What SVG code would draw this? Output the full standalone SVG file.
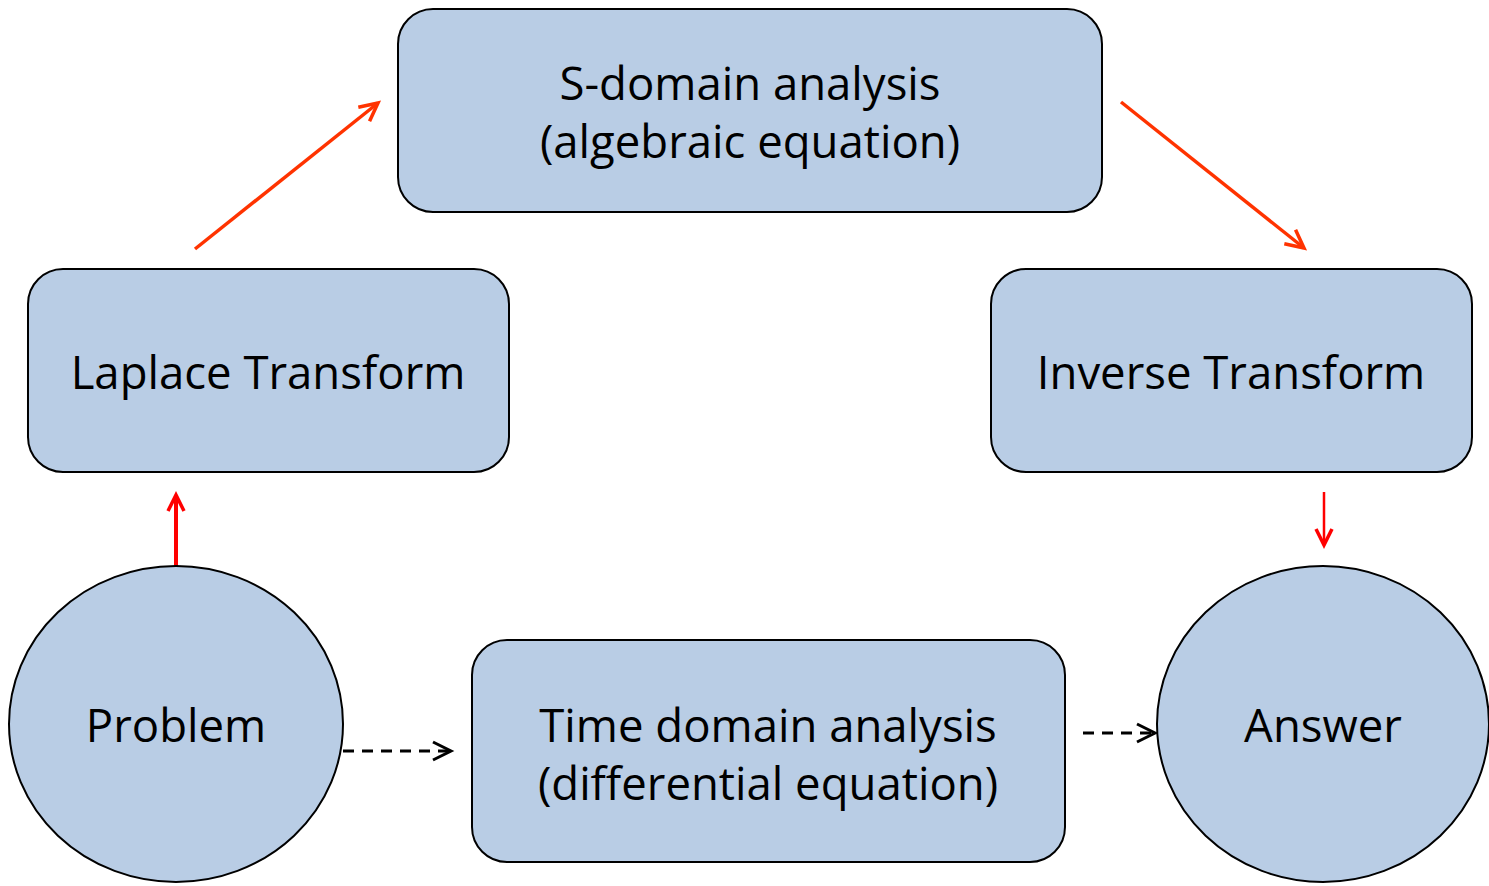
<svg xmlns="http://www.w3.org/2000/svg" width="1489" height="886" viewBox="0 0 1489 886">
<style>
.box{fill:#b9cde5;stroke:#000;stroke-width:2}
.t{font-family:"Open Sans","DejaVu Sans",sans-serif;font-size:45.5px;fill:#000;text-anchor:middle}
.ro{fill:none;stroke:#ff3300;stroke-width:3.5}
.rr{fill:none;stroke:#ff0000}
.dash{fill:none;stroke:#000;stroke-width:3;stroke-dasharray:11 8}
</style>
<defs>
<marker id="ao" markerWidth="12" markerHeight="12" refX="10" refY="6" orient="auto" markerUnits="userSpaceOnUse" viewBox="0 0 12 12" overflow="visible">
<path d="M-8,-3 L10,6 L-8,15" fill="none" stroke="#ff3300" stroke-width="3.5"/>
</marker>
<marker id="ar" markerWidth="12" markerHeight="12" refX="10" refY="6" orient="auto" markerUnits="userSpaceOnUse" viewBox="0 0 12 12" overflow="visible">
<path d="M-6,-2 L10,6 L-6,14" fill="none" stroke="#ff0000" stroke-width="3.5"/>
</marker>
<marker id="ak" markerWidth="12" markerHeight="12" refX="10" refY="6" orient="auto" markerUnits="userSpaceOnUse" viewBox="0 0 12 12" overflow="visible">
<path d="M-8,-3 L10,6 L-8,15" fill="none" stroke="#000" stroke-width="3"/>
</marker>
</defs>
<g id="connectors">
<line class="ro" x1="195" y1="249" x2="378" y2="103" marker-end="url(#ao)"/>
<line class="ro" x1="1121" y1="102" x2="1304" y2="248" marker-end="url(#ao)"/>
<line class="rr" stroke-width="4" x1="176" y1="566" x2="176" y2="495" marker-end="url(#ar)"/>
<line class="rr" stroke-width="2.5" x1="1324" y1="492" x2="1324" y2="545" marker-end="url(#ar)"/>
<line class="dash" x1="343" y1="751" x2="451" y2="751" marker-end="url(#ak)"/>
<line class="dash" x1="1083" y1="733" x2="1155" y2="733" marker-end="url(#ak)"/>
</g>
<g id="s-domain">
<rect class="box" x="398" y="9" width="704" height="203" rx="35"/>
<text class="t" x="750" y="100">S-domain analysis</text>
<text class="t" x="750" y="158">(algebraic equation)</text>
</g>
<g id="laplace">
<rect class="box" x="28" y="269" width="481" height="203" rx="35"/>
<text class="t" x="268" y="389">Laplace Transform</text>
</g>
<g id="inverse">
<rect class="box" x="991" y="269" width="481" height="203" rx="35"/>
<text class="t" x="1231" y="389">Inverse Transform</text>
</g>
<g id="time-domain">
<rect class="box" x="472" y="640" width="593" height="222" rx="35"/>
<text class="t" x="768" y="742">Time domain analysis</text>
<text class="t" x="768" y="800">(differential equation)</text>
</g>
<g id="problem">
<ellipse class="box" cx="176" cy="724" rx="167" ry="158"/>
<text class="t" x="176" y="742">Problem</text>
</g>
<g id="answer">
<ellipse class="box" cx="1323" cy="724" rx="166" ry="158"/>
<text class="t" x="1323" y="742">Answer</text>
</g>
</svg>
